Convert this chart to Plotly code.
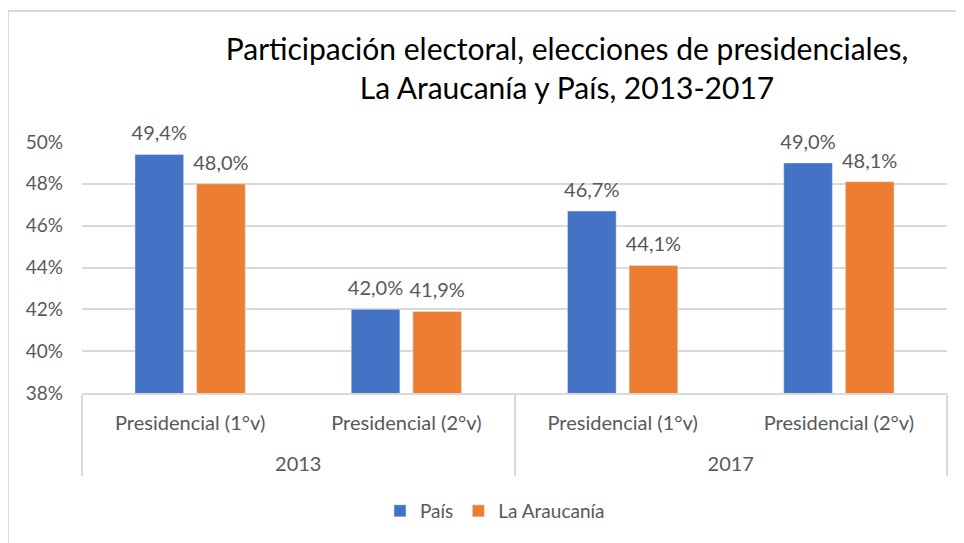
import plotly.graph_objects as go

years = ["2013", "2013", "2017", "2017"]
rounds = ["Presidencial (1°v)", "Presidencial (2°v)", "Presidencial (1°v)", "Presidencial (2°v)"]
pais = [49.4, 42.0, 46.7, 49.0]
araucania = [48.0, 41.9, 44.1, 48.1]
y_ticks = [38, 40, 42, 44, 46, 48, 50]

FONT = "Lato"
TXT = "#595959"
BLUE = "#4472C4"
ORANGE = "#ED7D31"

# figure is drawn at an 8px page offset, so it spans 956x535
W, H = 956, 535
L, R, T, B = 74, 17, 134, 150
PW, PH = W - L - R, H - T - B

x_cats = [years, [r + "<br> " for r in rounds]]

fig = go.Figure()
for name, vals, col in [("País", pais, BLUE), ("La Araucanía", araucania, ORANGE)]:
    fig.add_trace(go.Bar(
        x=x_cats, y=vals, name=name, marker_color=col, hoverinfo="skip",
    ))
for name, vals in [("País", pais), ("La Araucanía", araucania)]:
    fig.add_trace(go.Scatter(
        x=x_cats, y=vals, mode="markers+text", showlegend=False,
        marker=dict(size=13, opacity=0), hoverinfo="skip",
        text=[f"{v:.1f}%".replace(".", ",") for v in vals],
        textposition="top center",
        textfont=dict(family=FONT, size=20, color=TXT), cliponaxis=False,
    ))

fig.update_layout(
    width=W, height=H,
    margin=dict(l=L, r=R, t=T, b=B),
    paper_bgcolor="white", plot_bgcolor="white",
    separators=",.",
    barmode="group", bargap=0.43, bargroupgap=0.21,
    scattermode="group", scattergap=0.43,
    font=dict(family=FONT, color=TXT),
    title=dict(
        text="Participación electoral, elecciones de presidenciales,<br>La Araucanía y País, 2013-2017",
        x=559 / W, xanchor="center", xref="container",
        y=1 - 52 / H, yanchor="top", yref="container",
        font=dict(family=FONT, size=30, color="#000000"),
    ),
    legend=dict(
        orientation="h", x=(487 - L) / PW, xanchor="center",
        y=(385 - 503) / PH, yanchor="middle",
        font=dict(family=FONT, size=19, color=TXT),
        itemwidth=30,
    ),
)
fig.update_xaxes(
    type="multicategory",
    showline=True, linecolor="#D9D9D9", linewidth=1.5,
    showdividers=True, dividercolor="#D9D9D9", dividerwidth=1.5,
    tickfont=dict(family=FONT, size=20, color=TXT),
    ticks="", ticklabelstandoff=11,
)
fig.update_yaxes(
    range=[38, 50], tickvals=y_ticks, ticktext=[f"{v}%" for v in y_ticks],
    showgrid=True, gridcolor="#D9D9D9", gridwidth=1.5,
    zeroline=False, showline=False,
    tickfont=dict(family=FONT, size=19, color=TXT),
    ticklabelstandoff=18,
)
# chart frame (top and left edges visible in the reference)
fy = (H - B - 3) / PH
fx = -L / PW
fig.add_shape(type="line", xref="paper", yref="paper",
              x0=fx, x1=(W - L) / PW, y0=fy, y1=fy,
              line=dict(color="#D9D9D9", width=2))
fig.add_shape(type="line", xref="paper", yref="paper",
              x0=fx, x1=fx, y0=fy, y1=-B / PH,
              line=dict(color="#D9D9D9", width=2))

fig.write_html("out.html")
